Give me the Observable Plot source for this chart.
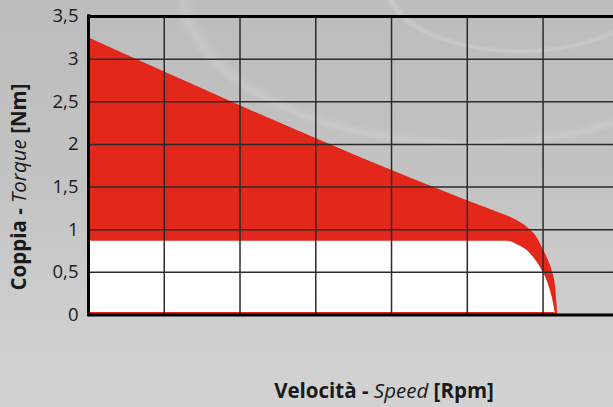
<!DOCTYPE html>
<html>
<head>
<meta charset="utf-8">
<script src="https://cdn.jsdelivr.net/npm/d3@7"></script>
<script src="https://cdn.jsdelivr.net/npm/@observablehq/plot@0.6"></script>
<style>
  html, body { margin: 0; padding: 0; overflow: hidden; }
  body {
    width: 613px; height: 407px;
    background:
      radial-gradient(ellipse 140px 70px at 520px -15px, rgba(0,0,0,0) 90%, rgba(225,225,225,0.35) 95%, rgba(0,0,0,0) 99%),
      radial-gradient(ellipse 300px 160px at 470px -10px, rgba(0,0,0,0) 92%, rgba(220,220,220,0.3) 96%, rgba(0,0,0,0) 99%),
      linear-gradient(180deg, #bcbcbc 0%, #c3c3c3 45%, #cdcdcd 75%, #d2d2d2 100%);
    font-family: "Open Sans", sans-serif;
  }
  svg { overflow: hidden; }
</style>
</head>
<body>
<script>
// Speed (rpm) and torque (Nm)
const peakSpeed   = [0, 5000, 5175, 5440, 5610, 5790, 5920, 5990, 6060, 6120, 6165, 6195];
const peakTorque  = [3.25, 1.34, 1.28, 1.19, 1.13, 1.03, 0.91, 0.79, 0.66, 0.52, 0.33, 0.0];
const contSpeed   = [0, 5530, 5660, 5790, 5920, 5990, 6055, 6120, 6150, 6165];
const contTorque  = [0.865, 0.865, 0.825, 0.755, 0.62, 0.52, 0.40, 0.21, 0.08, 0.0];
const speedGrid   = [1000, 2000, 3000, 4000, 5000, 6000, 7000];
const torqueGrid  = [0.5, 1, 1.5, 2, 2.5, 3];
const torqueTicks = [0, 0.5, 1, 1.5, 2, 2.5, 3, 3.5];

const peak = peakSpeed.map((s, i) => ({speed: s, torque: peakTorque[i]}));
const cont = contSpeed.map((s, i) => ({speed: s, torque: contTorque[i]}));

const chart = Plot.plot({
  width: 613,
  height: 407,
  marginLeft: 88,
  marginTop: 16,
  marginRight: 0,
  marginBottom: 92.5,
  style: {background: "transparent", fontFamily: "'Open Sans', sans-serif", overflow: "hidden"},
  x: {domain: [0, 7000], range: [88, 618.3], axis: null},
  y: {domain: [0, 3.5], range: [314.5, 16], axis: null},
  marks: [
    Plot.areaY(peak, {x: "speed", y: "torque", fill: "#e3271b", curve: "monotone-x"}),
    Plot.areaY(cont, {x: "speed", y1: 0.03, y2: "torque", fill: "#ffffff", curve: "monotone-x"}),
    Plot.ruleX(speedGrid, {y1: 0, y2: 3.5, stroke: "#2b2b2b", strokeWidth: 1.5}),
    Plot.ruleY(torqueGrid, {x1: 0, x2: 7000, stroke: "#2b2b2b", strokeWidth: 1.5}),
    Plot.ruleY([3.5], {x1: 0, x2: 7000, stroke: "#000", strokeWidth: 3}),
    Plot.ruleY([0], {x1: 0, x2: 7000, stroke: "#000", strokeWidth: 3}),
    Plot.ruleX([0], {y1: -0.02, y2: 3.52, stroke: "#000", strokeWidth: 3}),
    Plot.text(torqueTicks, {
      x: 0, y: d => d,
      text: d => String(d).replace(".", ","),
      textAnchor: "end", dx: -10, fontSize: 18.5, fill: "#1a1a1a"
    })
  ]
});
document.body.appendChild(chart);

const svg = d3.select(chart);
const yl = svg.append("text")
  .attr("transform", "translate(21,187) rotate(-90)")
  .attr("text-anchor", "middle")
  .attr("dominant-baseline", "middle")
  .attr("font-size", 20.5)
  .attr("fill", "#1a1a1a");
yl.append("tspan").attr("font-weight", "bold").text("Coppia - ");
yl.append("tspan").attr("font-style", "italic").attr("font-weight", 400).text("Torque");
yl.append("tspan").attr("font-weight", "bold").text(" [Nm]");

const xl = svg.append("text")
  .attr("x", 384).attr("y", 398)
  .attr("text-anchor", "middle")
  .attr("font-size", 20.5)
  .attr("fill", "#1a1a1a");
xl.append("tspan").attr("font-weight", "bold").text("Velocità - ");
xl.append("tspan").attr("font-style", "italic").attr("font-weight", 400).text("Speed");
xl.append("tspan").attr("font-weight", "bold").text(" [Rpm]");
</script>
</body>
</html>
